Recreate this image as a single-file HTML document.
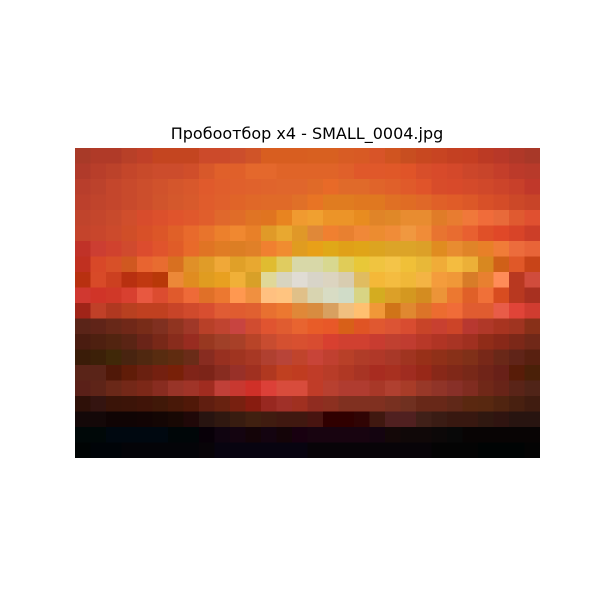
<!DOCTYPE html>
<html><head><meta charset="utf-8"><style>
body{margin:0;background:#fff;width:600px;height:600px;position:relative;overflow:hidden}
#title{position:absolute;left:0;width:614px;top:124px;text-align:center;font:16px "DejaVu Sans","Liberation Sans",sans-serif;color:#000}
#img{position:absolute;left:75px;top:148px}
</style></head><body>
<div id="title">Пробоотбор x4 - SMALL_0004.jpg</div>
<svg id="img" width="465" height="310" shape-rendering="crispEdges"></svg>
<script>
const rowsLeft=[
"a83a28 b03a28 b03a28 b84028 c04028 c44520 c44520 c44520 cc4a2a cc4a2a cc4e2c d05428 d85e20 d85e20 d85e20",
"b03a2a b83e2a bc422a c4462a c84a2a cc4c2c cc4c2c d04e2a d8582a e0602a e0602a e4682c e4682c e06428 e06428",
"b83e2c bc422c c4462c c84a2c cc4e2c d0522c d4562c d8582c e05a2c e05e2c e0602c e0622c e0642c e0662c e0662c",
"bc402c c0442c c4462c c84a2c cc4e2c d0542c d4582c d85a2c e05c2c e0602c e06428 e06828 e06a28 e06a28 e07028",
"c0442c c4462c c84a2c d04e2c d84c2c dc502c e0542c e0582c e05e2c e0682c e06c28 e07424 e07420 e88420 f09a30",
"c4442c c8462c cc4a2c d04e28 d85028 dc5628 e06028 e86a2c e8742c ec802c f08830 e88028 e09a28 e8a830 e09828",
"c03228 cc3e32 d0422e d04a2e dc4c2e e0542c e05c28 e86a2a e07424 e07c24 dc7e24 e08028 f08030 f08c30 e09c20",
"c03020 d84828 d85028 d05820 e86430 e86c30 d87020 e09028 e09c28 f0a838 e0a028 e8a830 e0bc30 e0cc60 d8d8a8",
"b83010 d84a28 cc4020 b83010 c03810 b83808 ec8838 e08c20 e09c20 e8a020 f0b038 d8a028 e0d898 d8d4c0 e0dcd4",
"d03830 d03428 d03828 d84030 e85840 dc4c30 e05a2c ee6a38 e07028 ec7830 ff9850 f09040 ffc080 ffc480 e0c088",
"a02418 c04028 b03820 b84020 c04020 c04020 c84428 d04a2c d84e30 e05c34 e05c30 e06030 e87030 ec7830 e08838",
"5a2418 602418 682818 702818 782c18 803020 903420 a03828 b84028 c04430 c84440 d04c30 e05430 e05c30 e86430",
"4a1c10 4e2010 522410 5a2414 6a2418 782818 882c1c 982c20 983820 a04028 a84028 b84428 c84c30 d45030 d85030",
"3a1c08 3c2008 402808 482410 502810 582c10 602c10 6a2c18 882c20 983020 a03420 a83824 b04030 b84438 c0442c",
"5a2418 5a2418 501808 601c08 6a2010 742010 782008 802418 7c2418 882c20 983028 a03020 b03820 c04020 c03c20",
"5a2018 5e2418 6a2818 742818 7c2818 882c20 983428 a03428 a02c20 c04038 c83830 d03028 dc4038 d84c3c d84c3c",
"2e1008 341410 3a1408 3c1408 401408 401808 481808 501808 601e10 682210 782010 881c10 982820 a03028 a03020",
"140808 140808 100404 100404 120404 140604 180804 200808 281410 301810 381c10 402010 401c10 401810 401810",
"000808 000808 000810 000810 000810 000810 000608 000608 080008 100410 140410 140408 140410 140408 180010",
"000404 000408 000408 040408 040408 040408 040408 040408 080408 080410 080410 080410 080410 080410 080410"];
const rowsRight=[
"d86020 d86020 d85c24 d85a24 d85428 d05420 c84e20 c84820 c84422 c44022 c43e22 bc3a24 b83828 b03828 a83828",
"e06428 e06428 e0602a e0582a e0582a e05828 e05428 d84e2a d84a2a d4482a cc462a c8442a c43e2a bc3a2a b83a2a",
"e06a28 e86a28 e06a2a e06a2a e0642a e0602a e05a2a e0542a d84c2a d84a2a d44a2a d0482a cc442a c8402a c0382a",
"e87424 e07c20 e07c20 e07820 e07820 e07024 e06c24 e06828 e06028 e05c28 dc5828 d85028 d44c28 cc4828 c84428",
"f0a030 ec9428 ec9428 e88c20 e08428 e08828 e88c30 e88c30 e07c28 e87c30 f0783a f06c3a e86a3a e05a30 e05030",
"e08838 f08030 e88030 f08838 ec8c30 f08c38 f09840 f08c38 e87430 e86c30 e86030 e05028 e04828 d84428 cc3e28",
"e8a018 e0a818 e0a018 e0a418 dca420 dca428 dca428 dca028 e08c20 e88c30 e08428 e88028 f07c38 ec6c3c e86438",
"d8d8a8 d8d890 e0cc58 e8c838 f0c440 f4c448 f0c038 e8b838 f0ac38 f4bc40 ecb038 d88820 d06018 e05828 c84418",
"d8d4c8 dcd4c0 d8ccb0 e0bc60 f4b838 f4bc40 f0b838 f4b444 f49c3c f09838 d87c28 e88030 ff8c58 b83820 d04c3c",
"d8d4b0 d8dcc4 d0dcc8 d8d484 d4ac20 dca028 d49820 d48c20 ec9438 ec7830 e06028 f07038 d84c20 b83820 a83020",
"d88c40 d8a060 f0c080 ffc070 f09838 d07418 e08830 dc7428 ec6c30 f06c38 e05c30 e05c30 e85c48 e04438 d03c30",
"e85c28 e85828 d86018 e05424 e05830 dc5434 d84c30 c84428 c84030 cc4428 b83830 b03828 a83420 a03420 883018",
"d84c30 d84030 d04030 d04030 c83c30 c04030 c03c30 b83828 b03424 a83424 a03020 902c18 882818 7c2818 702818",
"c84438 c04030 b84028 b03c28 b03828 a83828 a03420 983018 903018 883018 803018 782818 6a2818 602418 582010",
"c03c28 b83c28 b03824 a83424 a82c20 a83020 a02c20 982818 882818 802818 782818 702418 682018 581c08 4a2008",
"c03c28 b84030 b03c30 b03c30 a83828 b04030 a83c28 983828 903428 883028 802c20 702818 682418 5a2418 502418",
"902c20 8c3020 803020 803020 803020 783020 703020 682818 682818 602818 5a2810 582810 502410 482010 401c10",
"481410 300000 300000 300404 401810 502020 502020 402018 3a1c14 381810 381810 301810 301410 281410 281410",
"180410 180410 180410 180410 140410 140808 100808 100808 0c0808 080808 080404 080404 080404 080404 080404",
"080408 080408 080408 080408 080408 080408 080408 080408 040404 040404 040404 000404 000404 000404 040404"];
const svg=document.getElementById('img');
const cw=465/30, ch=310/20;
for(let r=0;r<20;r++){
  const cols=(rowsLeft[r]+' '+rowsRight[r]).split(' ');
  cols.forEach((c,i)=>{
    const rect=document.createElementNS('http://www.w3.org/2000/svg','rect');
    rect.setAttribute('x',(i*cw).toFixed(2));
    rect.setAttribute('y',(r*ch).toFixed(2));
    rect.setAttribute('width',(cw+0.6).toFixed(2));
    rect.setAttribute('height',(ch+0.6).toFixed(2));
    rect.setAttribute('fill','#'+c);
    
    
    svg.appendChild(rect);
  });
}
</script>
</body></html>
